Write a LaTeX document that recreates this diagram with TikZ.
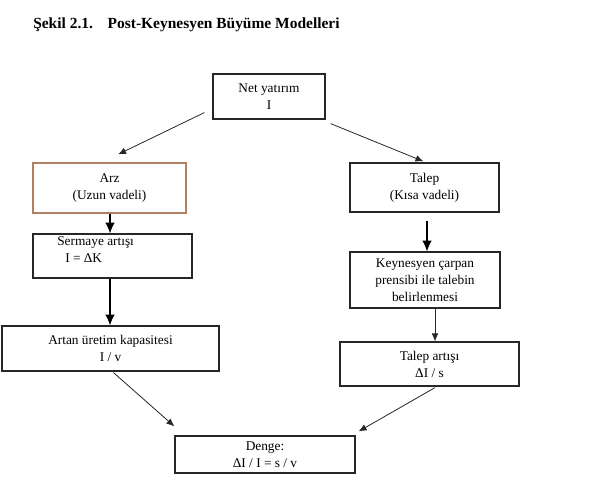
\documentclass[tikz,border=0pt]{standalone}
\usepackage{fontspec}
\setmainfont{Liberation Serif}
\usetikzlibrary{arrows.meta,calc}
\definecolor{arzbrown}{RGB}{176,128,96}
\tikzset{
  box/.style={draw=black!85, line width=0.9pt, inner sep=0pt, align=center,
    font=\fontsize{10}{12.75}\selectfont},
  lbl/.style={inner sep=0pt, align=left, font=\fontsize{10}{12.75}\selectfont},
  arr/.style={draw=black!85, line width=0.6pt, -{Latex[length=6pt,width=5pt]}},
  bigarr/.style={draw=black, line width=0.8pt, -{Latex[length=8pt,width=7pt]}}
}
\begin{document}
\begin{tikzpicture}[x=0.75pt,y=-0.75pt]
\useasboundingbox (0,0) rectangle (609,496);
\node[anchor=west, inner sep=0pt, font=\fontsize{11.6}{14}\selectfont\bfseries] (title) at (33,25)
  {Şekil 2.1.\hspace{11pt}Post-Keynesyen Büyüme Modelleri};

\node[box, minimum width=84pt, minimum height=33.75pt] (net) at (269,96.5) {Net yatırım\\I};
\node[box, draw=arzbrown, minimum width=114.75pt, minimum height=37.5pt] (arz) at (109.5,188) {Arz\\(Uzun vadeli)};
\node[box, minimum width=111.75pt, minimum height=36.75pt] (talep) at (424.5,187.5) {Talep\\(Kısa vadeli)};
\node[box, minimum width=119.25pt, minimum height=33pt] (serm) at (112.5,256) {};
\node[lbl, anchor=west] (sermtxt) at (57,250) {Sermaye artışı\\\hspace{6pt}I = ΔK};
\node[box, minimum width=112.5pt, minimum height=42pt] (keyn) at (425,280) {Keynesyen çarpan\\prensibi ile talebin\\belirlenmesi};
\node[box, minimum width=162.75pt, minimum height=33.75pt] (artan) at (110.5,348.5) {Artan üretim kapasitesi\\I / v};
\node[box, minimum width=134.25pt, minimum height=33pt] (tart) at (429.5,364) {Talep artışı\\ΔI / s};
\node[box, minimum width=135pt, minimum height=27.75pt] (denge) at (265,454.5) {Denge:\\ΔI / I = s / v};

\draw[arr] ($(net.south west)+(-8,-7)$) -- ($(arz.north)+(8.5,-8)$);
\draw[arr] ($(net.south east)+(5,4)$) -- ($(talep.north)+(-1,-1)$);
\draw[bigarr] (arz.south -| 110,0) -- (serm.north -| 110,0);
\draw[bigarr] (serm.south -| 110,0) -- (artan.north -| 110,0);
\draw[bigarr] ($(talep.south)+(2.5,8)$) -- (keyn.north -| 427,0);
\draw[arr] (keyn.south -| 435,0) -- (tart.north -| 435,0);
\draw[arr] ($(artan.south)+(3,1)$) -- ($(denge.north west)+(0,-9)$);
\draw[arr] ($(tart.south)+(5.5,1)$) -- ($(denge.north east)+(3,-4)$);
\end{tikzpicture}
\end{document}
